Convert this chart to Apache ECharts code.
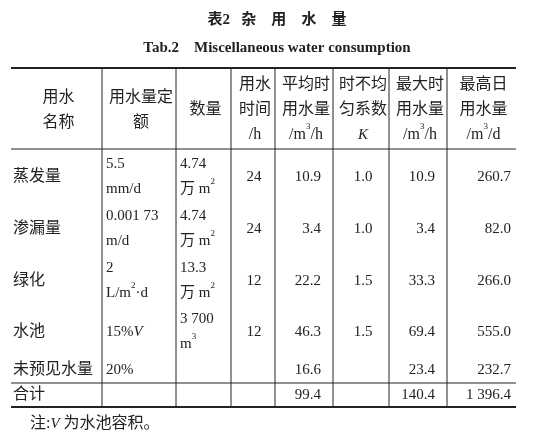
<!DOCTYPE html>
<html style="height: 100%">
<head>
    <meta charset="utf-8">
    <title>杂用水量</title>
    <script src="https://cdn.jsdelivr.net/npm/echarts@6/dist/echarts.min.js"></script>
</head>
<body style="height: 100%; margin: 0; background: #fff">
    <div id="container" style="width: 554px; height: 436px"></div>
    <script type="text/javascript">
        var title = '表2   杂    用    水    量';
        var subtitle = 'Tab.2    Miscellaneous water consumption';
        var note = '注:{i|V} 为水池容积。';

        // header cells, '\n' separates lines, {s|3} = superscript
        var headers = ['用水\n名称', '用水量定\n额', '数量', '用水\n时间\n/h',
            '平均时\n用水量\n/m{s|3}/h', '时不均\n匀系数\n{i|K}', '最大时\n用水量\n/m{s|3}/h', '最高日\n用水量\n/m{s|3}/d'];

        var names = ['蒸发量', '渗漏量', '绿化', '水池', '未预见水量', '合计'];
        var quotas = ['5.5\nmm/d', '0.001 73\nm/d', '2\nL/m{s|2}·d', '15%{i|V}', '20%', ''];
        var amounts = ['4.74\n万 m{s|2}', '4.74\n万 m{s|2}', '13.3\n万 m{s|2}', '3 700\nm{s|3}', '', ''];
        var hours = ['24', '24', '12', '12', '', ''];
        var avgHour = ['10.9', '3.4', '22.2', '46.3', '16.6', '99.4'];
        var kFactor = ['1.0', '1.0', '1.5', '1.5', '', ''];
        var maxHour = ['10.9', '3.4', '33.3', '69.4', '23.4', '140.4'];
        var maxDay = ['260.7', '82.0', '266.0', '555.0', '232.7', '1 396.4'];

        var colX = [11, 102, 176, 231, 275, 333, 389, 447, 516];
        var rowY = [177, 229, 281, 332, 370, 395];
        var tableTop = 68, headBottom = 149, totalTop = 383, tableBottom = 407;

        var font = '"Liberation Serif", "DejaVu Serif", "Noto Sans CJK SC", serif';
        var rich = {
            s: { fontSize: 9, verticalAlign: 'top', padding: [0, 0, 6, 0], fontFamily: font, fill: '#222' },
            i: { fontStyle: 'italic', fontSize: 15, fontFamily: font, fill: '#222' }
        };
        var els = [];
        function addText(str, x, y, align, size, weight) {
            els.push({
                type: 'text', x: x, y: y,
                style: {
                    text: str, align: align, verticalAlign: 'middle', fontSize: size || 15,
                    fontWeight: weight || 'normal', fontFamily: font, fill: '#222',
                    lineHeight: 25, rich: rich
                }
            });
        }
        function addLine(x1, y1, x2, y2, w) {
            els.push({ type: 'line', shape: { x1: x1, y1: y1, x2: x2, y2: y2 },
                style: { stroke: '#222', lineWidth: w } });
        }

        addText(title, 277, 20, 'center', 15, 'bold');
        addText(subtitle, 277, 48, 'center', 15, 'bold');
        addLine(colX[0], tableTop, colX[8], tableTop, 2);
        addLine(colX[0], headBottom, colX[8], headBottom, 1);
        addLine(colX[0], totalTop, colX[8], totalTop, 1);
        addLine(colX[0], tableBottom, colX[8], tableBottom, 2);
        for (var c = 1; c < 8; c++) addLine(colX[c], tableTop, colX[c], tableBottom, 1);

        headers.forEach(function (h, i) {
            addText(h, (colX[i] + colX[i + 1]) / 2 + 2, 110, 'center', 16);
        });

        names.forEach(function (n, r) {
            var y = rowY[r];
            addText(n, colX[0] + 2, y, 'left', 16);
            addText(quotas[r], colX[1] + 4, y, 'left', 15);
            addText(amounts[r], colX[2] + 4, y, 'left', 15);
            addText(hours[r], (colX[3] + colX[4]) / 2 + 1, y, 'center', 15);
            addText(avgHour[r], colX[5] - 12, y, 'right', 15);
            addText(kFactor[r], (colX[5] + colX[6]) / 2 + 2, y, 'center', 15);
            addText(maxHour[r], colX[7] - 12, y, 'right', 15);
            addText(maxDay[r], colX[8] - 5, y, 'right', 15);
        });
        addText(note, 30, 424, 'left', 16);

        var myChart = echarts.init(document.getElementById('container'));
        myChart.setOption({ backgroundColor: '#fff', graphic: els });
    </script>
</body>
</html>
